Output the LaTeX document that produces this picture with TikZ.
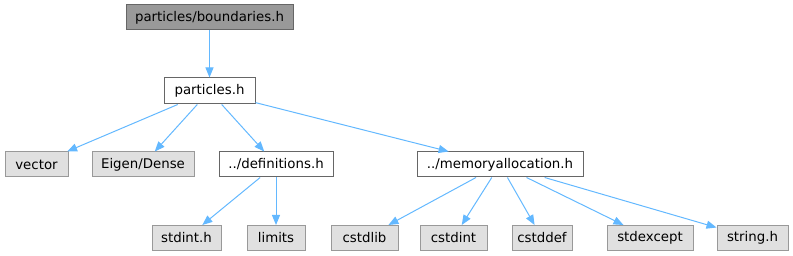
\documentclass[tikz,border=0pt]{standalone}
\usepackage{fontspec}
\setmainfont{DejaVu Sans}
\usetikzlibrary{arrows.meta}
\definecolor{edgeblue}{HTML}{63B8FF}
\definecolor{grayfill}{HTML}{E0E0E0}
\definecolor{grayborder}{HTML}{999999}
\definecolor{darkfill}{HTML}{999999}
\definecolor{darkborder}{HTML}{666666}
\begin{document}
\begin{tikzpicture}[x=0.75pt,y=-0.75pt,
  box/.style={rectangle,draw,line width=0.75pt,inner sep=0pt,minimum height=18.75pt,font=\fontsize{10pt}{12pt}\selectfont},
  ext/.style={box,fill=grayfill,draw=grayborder},
  inc/.style={box,fill=white,draw=darkborder},
  cur/.style={box,fill=darkfill,draw=darkborder},
  dep/.style={draw=edgeblue,line width=0.75pt,-{Triangle[length=7.5pt,width=6pt]}}]
\useasboundingbox (0,0) rectangle (793,256);
\node[cur,minimum width=125.25pt] (top) at (209.5,17.5) {particles/boundaries.h};
\node[inc,minimum width=68.25pt,minimum height=19.5pt] (part) at (209.5,91) {particles.h};
\node[ext,minimum width=47.25pt] (vec) at (36.5,164.5) {vector};
\node[ext,minimum width=76.5pt] (eig) at (143,164.5) {Eigen/Dense};
\node[inc,minimum width=85.5pt] (defs) at (276,164.5) {../definitions.h};
\node[inc,minimum width=124.5pt] (mem) at (500,164.5) {../memoryallocation.h};
\node[ext,minimum width=51.75pt] (sint) at (186.5,238) {stdint.h};
\node[ext,minimum width=43.5pt] (lim) at (276,238) {limits};
\node[ext,minimum width=50.25pt] (clib) at (364.5,238) {cstdlib};
\node[ext,minimum width=50.25pt] (cint) at (453.5,238) {cstdint};
\node[ext,minimum width=45pt] (cdef) at (542,238) {cstddef};
\node[ext,minimum width=64.5pt] (sexc) at (650,238) {stdexcept};
\node[ext,minimum width=53.25pt] (str) at (752.5,238) {string.h};
\draw[dep] (top) -- (part);
\draw[dep] (part) -- (vec);
\draw[dep] (part) -- (eig);
\draw[dep] (part) -- (defs);
\draw[dep] (part) -- (mem);
\draw[dep] (defs) -- (sint);
\draw[dep] (defs) -- (lim);
\draw[dep] (mem) -- (clib);
\draw[dep] (mem) -- (cint);
\draw[dep] (mem) -- (cdef);
\draw[dep] (mem) -- (sexc);
\draw[dep] (mem) -- (str);
\end{tikzpicture}
\end{document}
